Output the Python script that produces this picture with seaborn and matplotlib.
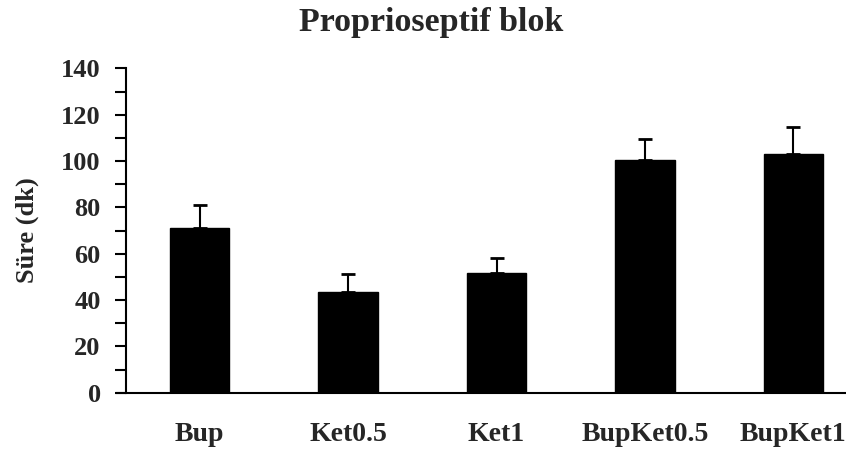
import matplotlib
matplotlib.use("Agg")
import matplotlib.pyplot as plt
import seaborn as sns
import pandas as pd
from matplotlib.ticker import MultipleLocator

categories = ["Bup", "Ket0.5", "Ket1", "BupKet0.5", "BupKet1"]
means = [71.0, 43.6, 51.7, 100.3, 103.2]
errors = [10.2, 7.8, 6.3, 9.2, 11.5]

sns.set_theme(style="white")
plt.rcParams['font.family'] = ['Liberation Serif', 'DejaVu Serif']
plt.rcParams['font.weight'] = 'bold'

df = pd.DataFrame({"group": categories, "value": means})

fig = plt.figure(figsize=(8.46, 4.5), dpi=100)
ax = fig.add_axes([0.1485, 0.1273, 0.8505, 0.7207])

sns.barplot(data=df, x="group", y="value", color="black", width=0.4,
            errorbar=None, ax=ax, saturation=1, edgecolor="black")
ax.errorbar(range(len(categories)), means, yerr=[[0]*len(errors), errors],
            fmt="none", ecolor="black", elinewidth=1.5, capsize=5, capthick=2)

ax.set_xlim(-0.5, 4.35)
ax.set_ylim(0, 140)
ax.yaxis.set_major_locator(MultipleLocator(20))
ax.yaxis.set_minor_locator(MultipleLocator(10))
ax.tick_params(axis="y", which="both", direction="out", length=8, width=1.5,
               left=True, labelsize=19, pad=10, color="black")
ax.tick_params(axis="x", bottom=False, labelsize=20, pad=15)
for lab in ax.get_yticklabels() + ax.get_xticklabels():
    lab.set_fontweight("bold")

ax.set_xlabel("")
ax.set_ylabel("Süre (dk)", fontsize=19, fontweight="bold")
ax.yaxis.set_label_coords(-0.12, 0.5)
fig.text(431 / 846, 1 - 22 / 450, "Proprioseptif blok", fontsize=24.5,
         fontweight="bold", ha="center", va="center")

for s in ["top", "right"]:
    ax.spines[s].set_visible(False)
for s in ["left", "bottom"]:
    ax.spines[s].set_color("black")
    ax.spines[s].set_linewidth(1.5)
ax.spines["bottom"].set_bounds(-0.555, 4.35)

fig.savefig("out.png", dpi=100)
